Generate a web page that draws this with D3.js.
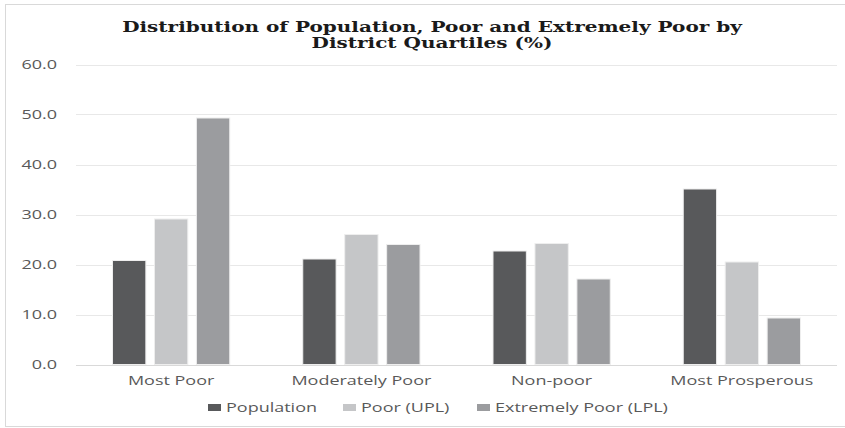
<!DOCTYPE html>
<html>
<head>
<meta charset="utf-8">
<script src="https://cdn.jsdelivr.net/npm/d3@7"></script>
<style>
  html, body { margin: 0; padding: 0; background: #ffffff; }
  svg { display: block; }
</style>
</head>
<body>
<svg id="chart" width="845" height="428"></svg>
<script>
// Distribution of population, poor and extremely poor by district quartiles (%)
const categories = ["Most Poor", "Moderately Poor", "Non-poor", "Most Prosperous"];
const seriesNames = ["Population", "Poor (UPL)", "Extremely Poor (LPL)"];
const population = [20.8, 21.1, 22.7, 35.1];
const poorUPL = [29.1, 26.0, 24.2, 20.5];
const extremePoorLPL = [49.3, 24.0, 17.1, 9.3];
const yTicks = [0, 10, 20, 30, 40, 50, 60];
const titleLines = ["Distribution of Population, Poor and Extremely Poor by", "District Quartiles (%)"];

const seriesValues = [population, poorUPL, extremePoorLPL];
const colors = ["#58595b", "#c5c6c8", "#9b9c9f"];

const W = 845, H = 428;
const margin = { left: 76, right: 8, top: 64.5, bottom: 63.5 };
const svg = d3.select("#chart");

// chart frame
svg.append("rect")
  .attr("x", 5.5).attr("y", 4.5)
  .attr("width", W + 10).attr("height", 422)
  .attr("fill", "#ffffff").attr("stroke", "#d9d9d9").attr("stroke-width", 1);

const x0 = d3.scaleBand().domain(categories).range([margin.left, W - margin.right]).padding(0);
const x1 = d3.scaleBand().domain(seriesNames).range([0, x0.bandwidth()])
  .paddingInner(0.205).paddingOuter(0.87);
const y = d3.scaleLinear().domain([0, 60]).range([H - margin.bottom, margin.top]);

const sansFont = "'Open Sans', 'Liberation Sans', sans-serif";
const stretch = 1.5;

// gridlines
svg.append("g")
  .selectAll("line")
  .data(yTicks)
  .join("line")
  .attr("x1", margin.left).attr("x2", W - margin.right)
  .attr("y1", d => Math.round(y(d)) + 0.5).attr("y2", d => Math.round(y(d)) + 0.5)
  .attr("stroke", d => d === 0 ? "#d9d9d9" : "#e8e8e8")
  .attr("stroke-width", 1);

// y axis labels, stretched horizontally about their right edge
const yAxis = d3.axisLeft(y).tickValues(yTicks).tickFormat(d3.format(".1f")).tickSize(0);
const yg = svg.append("g").attr("transform", "translate(57,0)").call(yAxis);
yg.select(".domain").remove();
yg.selectAll("text")
  .attr("x", 0).attr("dy", "0.36em")
  .attr("text-anchor", "end")
  .attr("fill", "#595959")
  .style("font-family", sansFont).style("font-size", "12px")
  .attr("transform", `scale(${stretch},1)`);

// bars
const groups = svg.append("g")
  .selectAll("g")
  .data(categories)
  .join("g")
  .attr("transform", d => `translate(${x0(d)},0)`);

groups.selectAll("rect")
  .data((c, ci) => seriesNames.map((s, si) => ({ s, si, v: seriesValues[si][ci] })))
  .join("rect")
  .attr("x", d => x1(d.s))
  .attr("y", d => y(d.v))
  .attr("width", x1.bandwidth())
  .attr("height", d => y(0) - y(d.v))
  .attr("fill", d => colors[d.si])
  .attr("stroke", "#eeeeee")
  .attr("stroke-width", 1);

// category labels
const xAxis = d3.axisBottom(x0).tickSize(0).tickPadding(0);
const xg = svg.append("g").attr("transform", `translate(0,${y(0)})`).call(xAxis);
xg.select(".domain").remove();
xg.selectAll("text")
  .attr("y", 21).attr("dy", 0)
  .attr("fill", "#595959")
  .style("font-family", sansFont).style("font-size", "12px")
  .attr("transform", `scale(${stretch},1)`);

// legend
const legendPos = [
  { x: 208, tx: 226 },
  { x: 343, tx: 361 },
  { x: 477, tx: 495 }
];
const lg = svg.append("g");
seriesNames.forEach((name, i) => {
  lg.append("rect")
    .attr("x", legendPos[i].x).attr("y", 404)
    .attr("width", 13).attr("height", 7)
    .attr("fill", colors[i]);
  lg.append("text")
    .attr("transform", `translate(${legendPos[i].tx},411.5) scale(${stretch},1)`)
    .attr("fill", "#595959")
    .style("font-family", sansFont).style("font-size", "12px")
    .text(name);
});

// title
const titleG = svg.append("g");
titleLines.forEach((line, i) => {
  titleG.append("text")
    .attr("transform", `translate(432,${i === 0 ? 32 : 48}) scale(1.43,1)`)
    .attr("text-anchor", "middle")
    .attr("fill", "#1a1a1a")
    .style("font-family", "'DejaVu Serif', 'Liberation Serif', serif")
    .style("font-weight", "bold")
    .style("font-size", "14px")
    .text(line);
});
</script>
</body>
</html>
